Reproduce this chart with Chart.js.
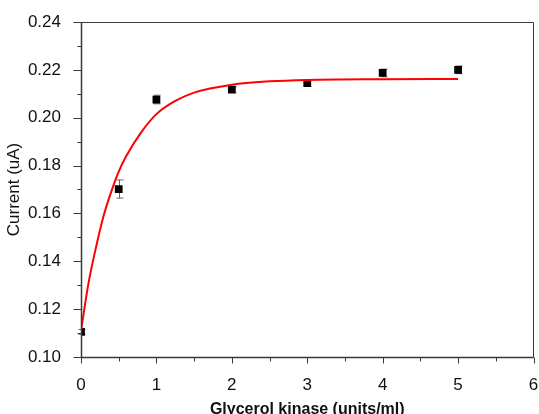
<!DOCTYPE html>
<html>
<head>
<meta charset="utf-8">
<script src="https://cdn.jsdelivr.net/npm/chart.js@4.4.0/dist/chart.umd.min.js"></script>
<style>
  html, body { margin: 0; padding: 0; background: #fff; }
  #wrap { width: 539px; height: 414px; }
</style>
</head>
<body>
<div id="wrap"><canvas id="chart" width="539" height="414"></canvas></div>
<script>
// Measured points (Glycerol kinase, units/ml -> current, uA)
const kinase = [0, 0.5, 1, 2, 3, 4, 5];
const current = [0.1105, 0.1702, 0.2076, 0.2117, 0.2145, 0.2187, 0.2200];
const errors = [0.0010, 0.0038, 0.0018, 0.0012, 0.0014, 0.0016, 0.0016];

// Fitted curve
const fitX = [0, 0.1, 0.2, 0.3, 0.4, 0.5, 0.6, 0.8, 1.0, 1.25, 1.5, 2, 2.5, 3, 4, 5];
const fitY = [0.111, 0.131, 0.146, 0.159, 0.169, 0.1775, 0.184, 0.194, 0.2015, 0.207, 0.2105, 0.2138, 0.2152, 0.2158, 0.2161, 0.2162];

const xTicks = [0, 1, 2, 3, 4, 5, 6];
const yTicks = [0.10, 0.12, 0.14, 0.16, 0.18, 0.20, 0.22, 0.24];

const axisColor = '#3a3a3a';
const fontFamily = 'Liberation Sans, Arial, sans-serif';

// Frame, tick marks and error bars
const framePlugin = {
    id: 'frame',
    beforeDatasetsDraw(chart) {
        const ctx = chart.ctx;
        const x = chart.scales.x, y = chart.scales.y;
        ctx.save();
        ctx.strokeStyle = '#666';
        ctx.lineWidth = 1;
        kinase.forEach((k, i) => {
            const px = Math.round(x.getPixelForValue(k)) + 0.5;
            const top = y.getPixelForValue(current[i] + errors[i]);
            const bot = y.getPixelForValue(current[i] - errors[i]);
            ctx.beginPath();
            ctx.moveTo(px, top); ctx.lineTo(px, bot);
            ctx.moveTo(px - 3, top); ctx.lineTo(px + 4, top);
            ctx.moveTo(px - 3, bot); ctx.lineTo(px + 4, bot);
            ctx.stroke();
        });
        ctx.restore();
    },
    afterDraw(chart) {
        const ctx = chart.ctx;
        const a = chart.chartArea;
        const x = chart.scales.x, y = chart.scales.y;
        const L = Math.round(a.left) + 0.5, R = Math.round(a.right) - 0.5;
        const T = Math.round(a.top) + 0.5, B = Math.round(a.bottom) + 0.5;
        ctx.save();
        ctx.strokeStyle = axisColor;
        ctx.lineWidth = 1;
        ctx.beginPath();
        ctx.moveTo(L, T); ctx.lineTo(R, T); ctx.lineTo(R, B); ctx.lineTo(L, B); ctx.closePath();
        ctx.stroke();
        ctx.lineWidth = 1.5;
        ctx.beginPath();
        ctx.moveTo(L, T); ctx.lineTo(L, B); ctx.lineTo(R, B);
        ctx.stroke();
        ctx.lineWidth = 1;
        ctx.beginPath();
        for (let v = 0; v <= 14; v++) {
            const py = Math.round(y.getPixelForValue(0.10 + v * 0.01)) + 0.5;
            const len = v % 2 === 0 ? 8 : 4;
            ctx.moveTo(L - len, py); ctx.lineTo(L, py);
        }
        for (let v = 0; v <= 12; v++) {
            const px = Math.round(x.getPixelForValue(v * 0.5)) + 0.5;
            const len = v % 2 === 0 ? 6 : 4;
            ctx.moveTo(px, B); ctx.lineTo(px, B + len);
        }
        ctx.stroke();
        ctx.restore();
    }
};

const ctx = document.getElementById('chart').getContext('2d');
new Chart(ctx, {
    type: 'scatter',
    data: {
        datasets: [{
            data: fitX.map((v, i) => ({ x: v, y: fitY[i] })),
            showLine: true,
            borderColor: '#ff0000',
            borderWidth: 2,
            pointRadius: 0,
            cubicInterpolationMode: 'monotone',
            fill: false
        }, {
            data: kinase.map((v, i) => ({ x: v, y: current[i] })),
            pointStyle: 'rect',
            pointRadius: 5.5,
            backgroundColor: '#000',
            borderColor: '#000',
            borderWidth: 0
        }]
    },
    options: {
        responsive: false,
        animation: false,
        events: [],
        layout: { padding: { top: 22, right: 1, left: 0, bottom: 0 } },
        plugins: {
            legend: { display: false },
            tooltip: { enabled: false }
        },
        scales: {
            x: {
                type: 'linear',
                min: 0,
                max: 6,
                grid: { display: false },
                border: { display: false },
                afterBuildTicks: s => { s.ticks = xTicks.map(v => ({ value: v })); },
                ticks: {
                    color: '#111',
                    padding: 10,
                    maxRotation: 0,
                    autoSkip: false,
                    font: { family: fontFamily, size: 17 }
                },
                title: {
                    display: true,
                    text: 'Glycerol kinase (units/ml)',
                    color: '#111',
                    padding: { top: 0, bottom: -4 },
                    font: { family: fontFamily, size: 16, weight: 'bold', lineHeight: 1 }
                },
                afterFit: s => { s.height = 57; s.paddingLeft = 0; s.paddingRight = 0; }
            },
            y: {
                type: 'linear',
                min: 0.10,
                max: 0.24,
                grid: { display: false },
                border: { display: false },
                afterBuildTicks: s => { s.ticks = yTicks.map(v => ({ value: v })); },
                ticks: {
                    color: '#111',
                    padding: 12,
                    autoSkip: false,
                    callback: v => v.toFixed(2),
                    font: { family: fontFamily, size: 17 }
                },
                title: {
                    display: true,
                    text: 'Current (uA)',
                    color: '#111',
                    padding: { top: 4, bottom: 0 },
                    font: { family: fontFamily, size: 17, lineHeight: 1.2 }
                },
                afterFit: s => { s.width = 81; s.paddingTop = 0; s.paddingBottom = 0; }
            }
        }
    },
    plugins: [framePlugin]
});
</script>
</body>
</html>
